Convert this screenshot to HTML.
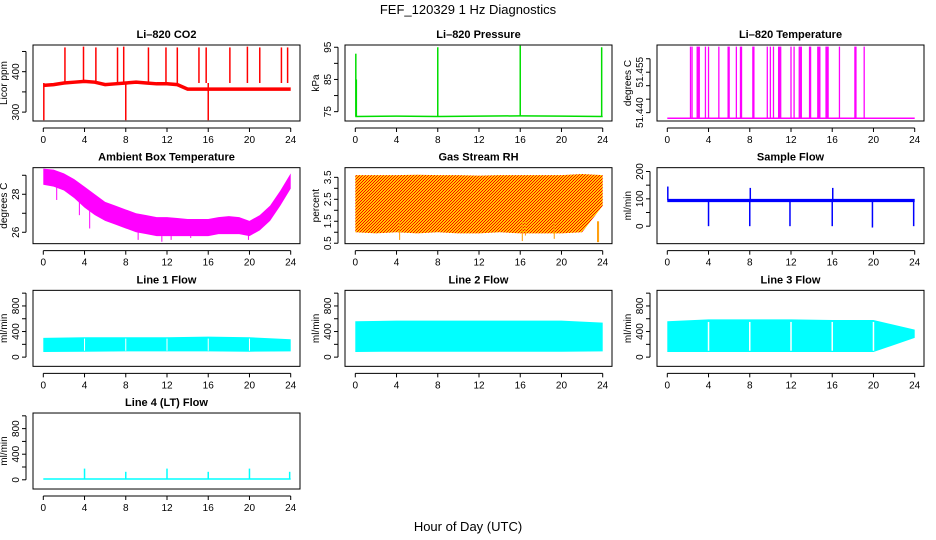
<!DOCTYPE html>
<html><head><meta charset="utf-8"><style>
body{margin:0;background:#fff}
svg{display:block;font-family:"Liberation Sans",sans-serif}
.tl{font-size:10px}
.tt{font-size:11px;font-weight:bold}
</style></head><body>
<svg id="c" width="936" height="540" viewBox="0 0 936 540">
<defs><pattern id="rhpat" width="3" height="3" patternUnits="userSpaceOnUse"><rect width="3" height="3" fill="#ffc800"/><rect width="1" height="1" fill="#f00"/><rect x="2" y="1" width="1" height="1" fill="#f00"/><rect x="1" y="2" width="1" height="1" fill="#f00"/></pattern></defs>
<text x="468" y="14" text-anchor="middle" font-size="13">FEF_120329  1 Hz Diagnostics</text>
<text x="468" y="531" text-anchor="middle" font-size="13">Hour of Day (UTC)</text>
</svg>
<script>
const xTicks=[0,4,8,12,16,20,24];
// CO2
const co2T=[0,1,2,3,4,5,6,7,8,9,10,11,12,13,14,15,16,17,18,19,20,21,22,23,24];
const co2V=[366,368,372,374,376,374,368,370,372,374,372,370,370,368,357,357,357,357,357,357,357,357,357,357,357];
const co2SpikeT=[0.05,2.1,3.9,5.1,7.2,7.8,8.0,10.2,11.9,13.0,15.1,15.8,16.0,18.1,19.8,21.0,23.1,23.7];
const co2SpikeV=[280,460,462,460,460,462,280,460,460,460,460,460,280,460,462,460,460,460];
// Pressure
const prT=[0,4,8,12,16,20,24];
const prV=[73.5,73.6,73.5,73.6,73.7,73.6,73.5];
const prSpikeT=[0.05,0.1,8.0,16.0,23.9];
const prSpikeV=[93,85,95,95.5,95];
// Li-820 temperature
const tpBase=51.4379;
const tpSpikeT=[2.25,2.4,2.9,3.0,3.1,3.7,4.0,5.0,5.9,6.0,6.7,7.1,7.2,8.3,8.4,9.7,10.0,10.3,10.8,10.9,11.0,12.0,12.3,12.8,12.9,13.0,13.8,13.9,14.6,14.7,14.8,15.4,15.5,15.6,16.7,18.2,18.3,19.1];
const tpSpikeV=51.4645;
// Ambient box temperature
const ambT=[0,1,2,3,4,5,6,7,8,9,10,11,12,13,14,15,16,17,18,19,20,21,22,23,24];
const ambHi=[29.35,29.3,29.1,28.8,28.4,28.0,27.6,27.4,27.2,27.0,26.9,26.8,26.8,26.75,26.7,26.7,26.7,26.8,26.85,26.8,26.6,26.9,27.4,28.2,29.1];
const ambLo=[28.5,28.4,28.2,27.8,27.3,26.9,26.6,26.4,26.2,26.0,25.9,25.8,25.8,25.8,25.8,25.8,25.8,25.9,25.9,25.9,25.8,26.1,26.6,27.4,28.3];
const ambDipT=[1.3,3.5,4.5,9.2,11.5,12.4,14.3,19.9];
const ambDipV=[27.7,26.9,26.2,25.6,25.5,25.6,25.7,25.6];
const ambDipBase=[28.4,27.8,27.3,26.0,25.8,25.8,25.8,25.9];
// Gas stream RH
const rhT=[0,2,4,6,8,10,12,14,16,18,20,22,24];
const rhHi=[3.6,3.6,3.6,3.62,3.6,3.6,3.58,3.6,3.6,3.6,3.6,3.65,3.6];
const rhLo=[1.0,0.95,1.0,0.95,1.0,0.95,0.95,1.0,0.95,0.95,0.95,1.0,2.2];
const rhDipT=[4.3,16.2,16.5,19.3,23.5,23.6];
const rhDipV=[0.65,0.6,0.85,0.7,0.55,0.55];
// Sample flow
const sfBaseLo=88, sfBaseHi=100;
const sfSpikeT=[0.05,4.0,8.0,8.05,11.9,16.0,16.05,19.9,23.9];
const sfSpikeV=[145,0,0,140,0,0,140,-5,0];
// Line flows
const lfT=[0,4,8,12,16,20,24];
const l1Hi=[300,310,310,310,320,310,280];
const l1Lo=[80,85,90,90,90,85,90];
const l2Hi=[560,570,570,570,570,570,540];
const l2Lo=[80,85,85,85,85,85,90];
const l3Hi=[560,590,590,590,580,580,430];
const l3Lo=[80,80,80,80,80,80,300];
const gapT=[4,8,12,16,20];
const l4Base=10;
const l4SpikeT=[4.0,8.0,12.0,16.0,20.0,23.9];
const l4SpikeV=[175,125,175,125,175,125];

const svg=document.getElementById('c');
const NS='http://www.w3.org/2000/svg';
function el(tag,attrs,parent){const e=document.createElementNS(NS,tag);for(const k in attrs)e.setAttribute(k,attrs[k]);(parent||svg).appendChild(e);return e;}
function panel(col,row,name,title,ylab,ymin,ymax,ticks,labels){
  const g=el('g',{});
  
  
  const x0=33+312*col,x1=300+312*col,y0=45+122.67*row,y1=121+122.67*row;
  const sx=h=>x0+10.3+h*(247.4/24);
  const sy=v=>y1-(v-ymin)/(ymax-ymin)*(y1-y0);
  const t=el('text',{x:(x0+x1)/2,y:y0-7,'text-anchor':'middle',class:'tt'},g);t.textContent=title;
  
  
  const data=el('g',{},g);
  el('rect',{x:x0,y:y0,width:x1-x0,height:y1-y0,fill:'none',stroke:'#000','stroke-width':1},g);
  el('line',{x1:sx(0),x2:sx(24),y1:y1+7,y2:y1+7,stroke:'#000'},g);
  xTicks.forEach(h=>{el('line',{x1:sx(h),x2:sx(h),y1:y1+7,y2:y1+11,stroke:'#000'},g);
    const tx=el('text',{x:sx(h),y:y1+22,'text-anchor':'middle',class:'tl'},g);tx.textContent=h;});
  el('line',{x1:x0-7,x2:x0-7,y1:sy(ticks[0]),y2:sy(ticks[ticks.length-1]),stroke:'#000'},g);
  ticks.forEach(v=>{el('line',{x1:x0-11,x2:x0-7,y1:sy(v),y2:sy(v),stroke:'#000'},g);});
  labels.forEach(([v,s])=>{const tx=el('text',{x:x0-14,y:sy(v),'text-anchor':'middle',class:'tl',transform:`rotate(-90 ${x0-14} ${sy(v)})`},g);tx.textContent=s;});
  const yl=el('text',{x:x0-26,y:(y0+y1)/2,'text-anchor':'middle',class:'tl',transform:`rotate(-90 ${x0-26} ${(y0+y1)/2})`},g);yl.textContent=ylab;
  
  
  return {sx,sy,g:data};
}
function band(p,T,Hi,Lo,fill,name){
  let pts=T.map((t,i)=>p.sx(t)+','+p.sy(Hi[i]));
  pts=pts.concat(T.slice().reverse().map((t,j)=>{const i=T.length-1-j;return p.sx(t)+','+p.sy(Lo[i]);}));
  const e=el('polygon',{points:pts.join(' '),fill:fill},p.g);
  
  
}
function spikes(p,T,V,base,color,w,name){
  T.forEach((t,i)=>{const v=Array.isArray(V)?V[i]:V;const b=Array.isArray(base)?base[i]:base;
    const e=el('line',{x1:p.sx(t),x2:p.sx(t),y1:p.sy(b),y2:p.sy(v),stroke:color,'stroke-width':w},p.g);
    
    });
}
function line(p,T,V,color,w,name){
  const e=el('polyline',{points:T.map((t,i)=>p.sx(t)+','+p.sy(V[i])).join(' '),fill:'none',stroke:color,'stroke-width':w},p.g);
  
  
}
// CO2
let p=panel(0,0,'co2','Li\u2013820 CO2','Licor ppm',278,466,[300,350,400,450],[[300,'300'],[400,'400']]);
line(p,co2T,co2V,'#f00',3.5,'co2-series');
spikes(p,co2SpikeT,co2SpikeV,co2V[8],'#f00',1.5,'co2-spike');
// Pressure
p=panel(1,0,'pressure','Li\u2013820 Pressure','kPa',72.1,95.7,[75,80,85,90,95],[[75,'75'],[85,'85'],[95,'95']]);
line(p,prT,prV,'#0d0',1.5,'pressure-series');
spikes(p,prSpikeT,prSpikeV,73.5,'#0d0',1.5,'pressure-spike');
// Temperature
p=panel(2,0,'li820-temp','Li\u2013820 Temperature','degrees C',51.4369,51.4651,[51.440,51.445,51.450,51.455,51.460],[[51.440,'51.440'],[51.455,'51.455']]);
line(p,[0,24],[tpBase,tpBase],'#f0f',1.5,'temperature-series');
spikes(p,tpSpikeT,tpSpikeV,tpBase,'#f0f',1.3,'temperature-spike');
// Ambient
p=panel(0,1,'ambient','Ambient Box Temperature','degrees C',25.4,29.4,[26,27,28,29],[[26,'26'],[28,'28']]);
band(p,ambT,ambHi,ambLo,'#f0f','ambient-band');
spikes(p,ambDipT,ambDipV,ambDipBase,'#f0f',1,'ambient-dip');
// RH
p=panel(1,1,'rh','Gas Stream RH','percent',0.48,3.94,[0.5,1,1.5,2,2.5,3,3.5],[[0.5,'0.5'],[1.5,'1.5'],[2.5,'2.5'],[3.5,'3.5']]);
band(p,rhT,rhHi,rhLo,'url(#rhpat)','rh-band');
spikes(p,rhDipT,rhDipV,1.5,'#f90',1,'rh-dip');
// Sample flow
p=panel(2,1,'sample-flow','Sample Flow','ml/min',-64,214,[0,50,100,150,200],[[0,'0'],[100,'100'],[200,'200']]);
band(p,[0,24],[sfBaseHi,sfBaseHi],[sfBaseLo,sfBaseLo],'#00f','sample-flow-band');
spikes(p,sfSpikeT,sfSpikeV,95,'#00f',1.5,'sample-flow-spike');
// Line flows
const lt=[0,200,400,600,800,1000], ll=[[0,'0'],[400,'400'],[800,'800']];
p=panel(0,2,'line1','Line 1 Flow','ml/min',-144,1044,lt,ll);
band(p,lfT,l1Hi,l1Lo,'#0ff','line1-band');
spikes(p,gapT,290,100,'#fff',1,'line1-gap');
p=panel(1,2,'line2','Line 2 Flow','ml/min',-144,1044,lt,ll);
band(p,lfT,l2Hi,l2Lo,'#0ff','line2-band');
p=panel(2,2,'line3','Line 3 Flow','ml/min',-144,1044,lt,ll);
band(p,lfT,l3Hi,l3Lo,'#0ff','line3-band');
spikes(p,gapT,550,100,'#fff',1.5,'line3-gap');
p=panel(0,3,'line4','Line 4 (LT) Flow','ml/min',-144,1044,lt,ll);
band(p,[0,24],[l4Base+15,l4Base+15],[l4Base-10,l4Base-10],'#0ff','line4-band');
spikes(p,l4SpikeT,l4SpikeV,l4Base,'#0ff',1.5,'line4-spike');
</script>
</body></html>
